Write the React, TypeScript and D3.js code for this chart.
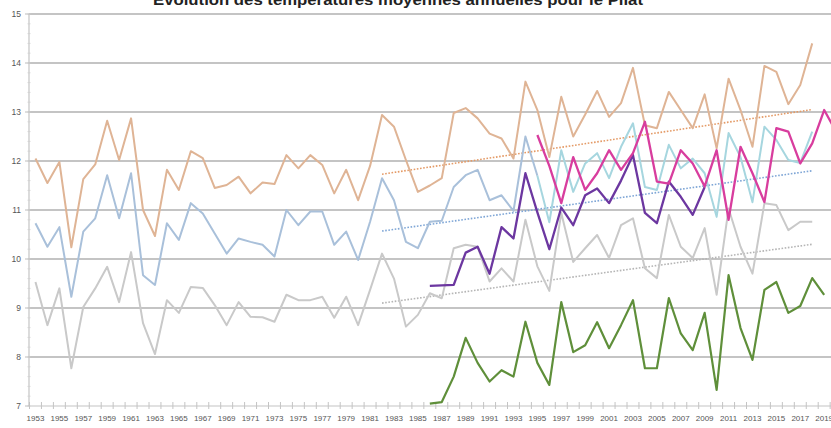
import React from 'react';
import * as d3 from 'd3';

const W = 831;
const H = 428;

const title = 'Évolution des températures moyennes annuelles pour le Pilat';
const categories = d3.range(1953, 2021).map(String);
const labelYears = [1953, 1955, 1957, 1959, 1961, 1963, 1965, 1967, 1969, 1971, 1973, 1975, 1977, 1979, 1981, 1983, 1985, 1987, 1989, 1991, 1993, 1995, 1997, 1999, 2001, 2003, 2005, 2007, 2009, 2011, 2013, 2015, 2017, 2019];
const yTicks = [7, 8, 9, 10, 11, 12, 13, 14, 15];

const orangeStart = 1953;
const orangeValues = [12.05, 11.55, 11.98, 10.24, 11.63, 11.93, 12.82, 12.02, 12.87, 11.0, 10.47, 11.82, 11.41, 12.2, 12.06, 11.45, 11.51, 11.68, 11.34, 11.56, 11.53, 12.12, 11.85, 12.12, 11.92, 11.34, 11.82, 11.2, 11.9, 12.94, 12.7, 12.02, 11.37, 11.5, 11.65, 12.98, 13.08, 12.87, 12.56, 12.46, 12.05, 13.62, 13.04, 12.08, 13.31, 12.5, 12.95, 13.43, 12.9, 13.18, 13.9, 12.73, 12.67, 13.41, 13.04, 12.67, 13.36, 12.26, 13.68, 13.04, 12.29, 13.94, 13.82, 13.16, 13.55, 14.4];

const blueStart = 1953;
const blueValues = [10.73, 10.25, 10.65, 9.23, 10.56, 10.83, 11.71, 10.83, 11.75, 9.67, 9.47, 10.73, 10.39, 11.14, 10.93, 10.52, 10.11, 10.42, 10.35, 10.29, 10.05, 11.0, 10.69, 10.97, 10.97, 10.29, 10.56, 9.98, 10.76, 11.65, 11.2, 10.35, 10.22, 10.76, 10.78, 11.47, 11.71, 11.82, 11.2, 11.3, 10.98, 12.5, 11.7];

const cyanStart = 1995;
const cyanValues = [11.7, 10.75, 12.22, 11.37, 11.95, 12.16, 11.65, 12.29, 12.77, 11.47, 11.41, 12.33, 11.85, 12.05, 11.75, 10.86, 12.57, 12.08, 11.16, 12.7, 12.43, 12.02, 11.96, 12.6];

const grayStart = 1953;
const grayValues = [9.53, 8.65, 9.4, 7.77, 9.02, 9.4, 9.84, 9.12, 10.14, 8.69, 8.06, 9.16, 8.9, 9.43, 9.41, 9.06, 8.65, 9.12, 8.82, 8.81, 8.72, 9.27, 9.16, 9.16, 9.23, 8.8, 9.23, 8.65, 9.37, 10.11, 9.6, 8.62, 8.86, 9.3, 9.2, 10.22, 10.29, 10.25, 9.54, 9.81, 9.54, 10.8, 9.85, 9.35, 10.94, 9.94, 10.22, 10.49, 10.02, 10.69, 10.83, 9.81, 9.61, 10.9, 10.25, 10.02, 10.63, 9.27, 11.03, 10.25, 9.7, 11.14, 11.1, 10.59, 10.76, 10.76];

const purpleStart = 1986;
const purpleValues = [9.45, 9.46, 9.47, 10.13, 10.25, 9.7, 10.65, 10.42, 11.75, 10.95, 10.2, 11.05, 10.69, 11.3, 11.44, 11.14, 11.6, 12.12, 10.94, 10.73, 11.58, 11.27, 10.9, 11.47];

const magentaStart = 1995;
const magentaValues = [12.53, 11.9, 11.14, 12.08, 11.41, 11.75, 12.22, 11.82, 12.16, 12.8, 11.58, 11.54, 12.22, 11.95, 11.48, 12.22, 10.8, 12.29, 11.75, 11.16, 12.67, 12.6, 11.95, 12.36, 13.04, 12.6];

const greenStart = 1986;
const greenValues = [7.05, 7.08, 7.6, 8.39, 7.88, 7.5, 7.73, 7.6, 8.72, 7.88, 7.43, 9.12, 8.1, 8.24, 8.71, 8.18, 8.65, 9.16, 7.77, 7.77, 9.2, 8.48, 8.14, 8.9, 7.33, 9.67, 8.59, 7.94, 9.37, 9.53, 8.9, 9.04, 9.61, 9.27];

const trendYears = [1982, 2018];
const orangeTrend = [11.73, 13.05];
const blueTrend = [10.57, 11.8];
const grayTrend = [9.1, 10.3];

export default function App() {
  const x = d3.scaleBand<string>().domain(categories).range([29.5, 29.5 + categories.length * 11.95]);
  const y = d3.scaleLinear().domain([7, 15]).range([406, 14]);
  const cx = (yr: number) => (x(String(yr)) as number) + x.bandwidth() / 2;

  const line = d3.line<[number, number]>().x(d => cx(d[0])).y(d => y(d[1]));
  const pts = (start: number, vals: number[]) => vals.map((v, i) => [start + i, v] as [number, number]);

  const series = [
    { d: pts(grayStart, grayValues), c: '#c9c9c9', w: 2 },
    { d: pts(blueStart, blueValues), c: '#a9c0da', w: 2 },
    { d: pts(cyanStart, cyanValues), c: '#a6d6df', w: 2 },
    { d: pts(orangeStart, orangeValues), c: '#dfb495', w: 2 },
    { d: pts(greenStart, greenValues), c: '#5f8f3a', w: 2.2 },
    { d: pts(purpleStart, purpleValues), c: '#6c37a0', w: 2.3 },
    { d: pts(magentaStart, magentaValues), c: '#d83d9e', w: 2.3 },
  ];
  const trends = [
    { d: trendYears.map((yr, i) => [yr, grayTrend[i]] as [number, number]), c: '#b5b5b5' },
    { d: trendYears.map((yr, i) => [yr, blueTrend[i]] as [number, number]), c: '#7fa6d6' },
    { d: trendYears.map((yr, i) => [yr, orangeTrend[i]] as [number, number]), c: '#e49a66' },
  ];

  const minor = d3.range(7, 15.001, 0.2);
  const left = 29;
  const right = W;

  return (
    <svg width={W} height={H} style={{ position: 'absolute', left: 0, top: 0, background: '#fff' }} fontFamily="'Liberation Sans', Arial, sans-serif">
      <rect width={W} height={H} fill="#fff" />
      {yTicks.map(t => (
        <line key={'g' + t} x1={left} x2={right} y1={y(t)} y2={y(t)} stroke="#c4c4c4" strokeWidth={t === 7 ? 1.2 : 1.8} />
      ))}
      <line x1={left} x2={left} y1={y(15)} y2={y(7)} stroke="#c4c4c4" strokeWidth={1.2} />
      {minor.map((m, i) => (
        <line key={'m' + i} x1={left - 1.5} x2={left + 1.5} y1={y(m)} y2={y(m)} stroke="#cfcfcf" strokeWidth={0.8} />
      ))}
      {yTicks.map(t => (
        <line key={'t' + t} x1={left - 4} x2={left} y1={y(t)} y2={y(t)} stroke="#bdbdbd" strokeWidth={1} />
      ))}
      {categories.map((c, i) => (
        <line key={'xt' + i} x1={x(c) as number} x2={x(c) as number} y1={402} y2={409} stroke="#c4c4c4" strokeWidth={1} />
      ))}
      {yTicks.map(t => (
        <text key={'yl' + t} x={21} y={y(t)} dy="0.35em" textAnchor="end" fontSize={8.5} fill="#555">{t}</text>
      ))}
      {labelYears.map(yr => (
        <text key={'xl' + yr} x={cx(yr)} y={421} textAnchor="middle" fontSize={8} fill="#555">{yr}</text>
      ))}
      {trends.map((s, i) => (
        <path key={'tr' + i} d={line(s.d) as string} fill="none" stroke={s.c} strokeWidth={1.6} strokeDasharray="1.6,1.6" />
      ))}
      {series.map((s, i) => (
        <path key={'s' + i} d={line(s.d) as string} fill="none" stroke={s.c} strokeWidth={s.w} strokeLinejoin="round" />
      ))}
      <text x={398} y={5} textAnchor="middle" fontSize={14} fontWeight="bold" fill="#222" textLength={490} lengthAdjust="spacingAndGlyphs">{title}</text>
    </svg>
  );
}
